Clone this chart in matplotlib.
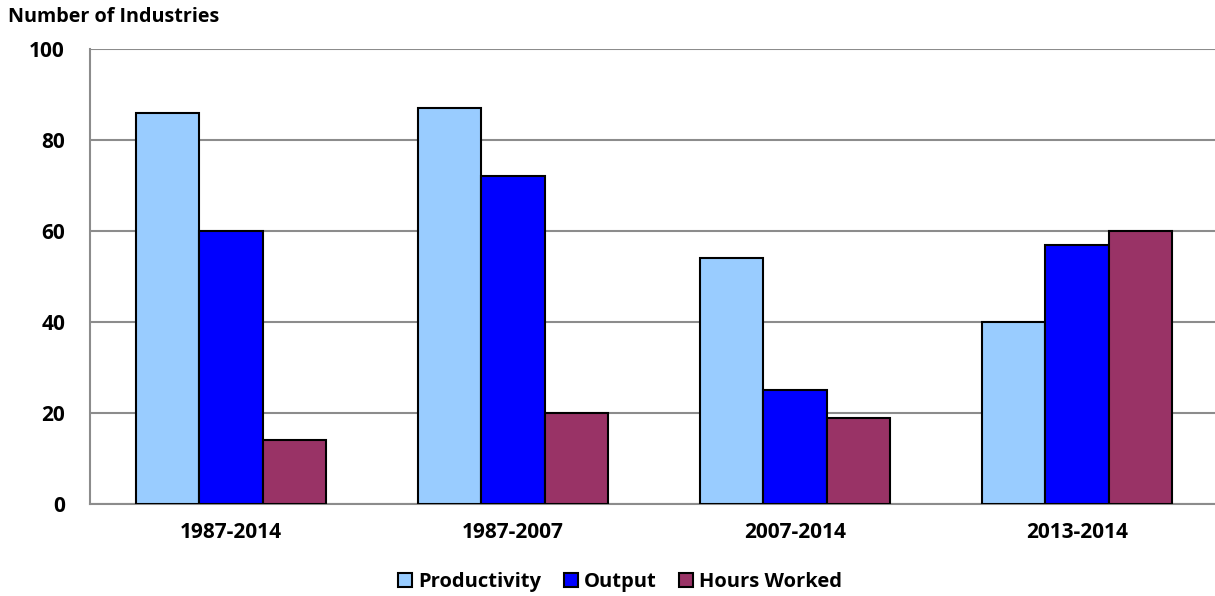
import matplotlib
matplotlib.use("Agg")
import matplotlib.pyplot as plt
import numpy as np

categories = ["1987-2014", "1987-2007", "2007-2014", "2013-2014"]
series_names = ["Productivity", "Output", "Hours Worked"]
productivity = [86, 87, 54, 40]
output = [60, 72, 25, 57]
hours_worked = [14, 20, 19, 60]
colors = ["#99CCFF", "#0000FF", "#993366"]

plt.rcParams['font.family'] = ['Open Sans', 'DejaVu Sans']
plt.rcParams['font.weight'] = 'bold'

fig = plt.figure(figsize=(12.15, 5.96), dpi=100)
ax = fig.add_axes([90/1215, 92/596, 1128/1215, 455/596])

x = np.arange(len(categories)) + 0.5
w = 0.224
for i, (vals, name, c) in enumerate(zip([productivity, output, hours_worked], series_names, colors)):
    ax.bar(x + (i - 1) * w, vals, width=w, color=c, edgecolor="black", linewidth=1.5,
           label=name, zorder=3)

ax.set_xlim(0, 4)
ax.set_ylim(0, 100)
ax.set_yticks([0, 20, 40, 60, 80, 100])
ax.set_xticks(x)
ax.set_xticklabels(categories)
ax.tick_params(axis='both', length=0, labelsize=15)
ax.tick_params(axis='y', pad=18)
ax.tick_params(axis='x', pad=13)
for lab in ax.get_xticklabels() + ax.get_yticklabels():
    lab.set_fontweight('bold')

ax.grid(axis='y', color="#8c8c8c", linewidth=1.5, zorder=0)
for s in ["top", "right"]:
    ax.spines[s].set_visible(False)
for s in ["left", "bottom"]:
    ax.spines[s].set_color("#8c8c8c")
    ax.spines[s].set_linewidth(1.5)

fig.text(8/1215, 1 - 17/596, "Number of Industries", fontsize=14.2, fontweight='bold',
         ha='left', va='center')

leg = fig.legend(loc='center', bbox_to_anchor=(620/1215, 1 - 582/596), ncol=3, frameon=False,
                 prop={'size': 14.5, 'weight': 'bold'}, handlelength=0.7, handleheight=0.7,
                 handletextpad=0.3, columnspacing=1.1)

fig.savefig("out.png", dpi=100)
